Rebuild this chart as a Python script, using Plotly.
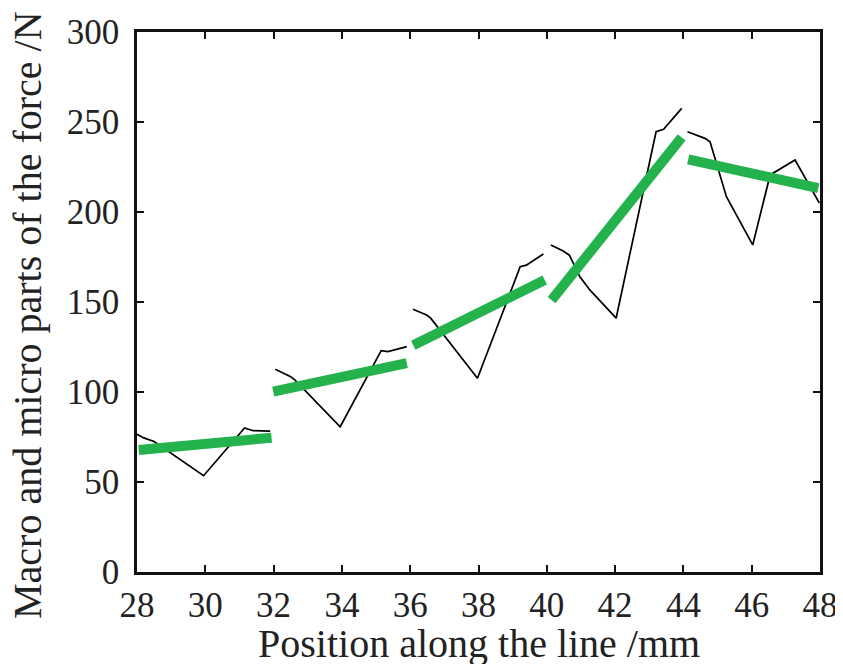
import plotly.graph_objects as go

# Micro (black) force trace, five segments of 4 mm each
micro_seg1_x = [28.0, 28.2, 28.5, 29.95, 31.15, 31.4, 31.9]
micro_seg1_y = [76.5, 74.5, 72.5, 53.5, 80.0, 78.5, 78.3]
micro_seg2_x = [32.05, 32.5, 32.62, 33.95, 35.15, 35.35, 35.9]
micro_seg2_y = [112.6, 108.5, 106.7, 80.7, 123.0, 122.4, 125.2]
micro_seg3_x = [36.08, 36.48, 36.6, 37.97, 39.22, 39.4, 39.9]
micro_seg3_y = [146.0, 142.8, 141.0, 107.6, 169.6, 170.5, 176.7]
micro_seg4_x = [40.12, 40.48, 40.66, 40.97, 41.26, 42.03, 43.2, 43.42, 43.95]
micro_seg4_y = [181.7, 178.3, 176.0, 164.0, 156.7, 141.0, 244.6, 246.0, 257.6]
micro_seg5_x = [44.12, 44.63, 44.78, 45.26, 46.03, 46.54, 47.27, 47.98]
micro_seg5_y = [244.6, 240.9, 239.0, 208.5, 181.7, 220.6, 228.9, 205.0]

# Macro (green) linear fits: start/end x and y for each segment
macro_x_start = [28.05, 31.99, 36.09, 40.14, 44.14]
macro_x_end = [31.94, 35.9, 39.94, 43.95, 47.95]
macro_y_start = [67.8, 100.2, 126.0, 151.0, 229.3]
macro_y_end = [74.6, 116.0, 162.2, 241.5, 213.2]

x_ticks = [28, 30, 32, 34, 36, 38, 40, 42, 44, 46, 48]
y_ticks = [0, 50, 100, 150, 200, 250, 300]

x_title = "Position along the line /mm"
y_title = "Macro and micro parts of the force /N"

micro_segments = [
    (micro_seg1_x, micro_seg1_y),
    (micro_seg2_x, micro_seg2_y),
    (micro_seg3_x, micro_seg3_y),
    (micro_seg4_x, micro_seg4_y),
    (micro_seg5_x, micro_seg5_y),
]

mx, my = [], []
for sx, sy in micro_segments:
    mx += sx + [None]
    my += sy + [None]

gx, gy = [], []
for xs, xe, ys, ye in zip(macro_x_start, macro_x_end, macro_y_start, macro_y_end):
    gx += [xs, xe, None]
    gy += [ys, ye, None]

fig = go.Figure()
fig.add_trace(go.Scatter(x=mx, y=my, mode="lines",
                         line=dict(color="black", width=1.7),
                         connectgaps=False, showlegend=False))
fig.add_trace(go.Scatter(x=gx, y=gy, mode="lines",
                         line=dict(color="rgb(35,178,75)", width=10),
                         connectgaps=False, showlegend=False))

family = "Liberation Serif, Times New Roman, serif"
tick_font = dict(family=family, size=35, color="#222")
title_font = dict(family=family, size=40, color="#222")

# page body has an 8px margin, so the figure is sized to fit the window
fig.update_layout(
    width=835, height=656,
    margin=dict(l=129, r=23, t=24, b=92, autoexpand=False),
    paper_bgcolor="white", plot_bgcolor="white",
    font=tick_font,
    showlegend=False,
)
fig.update_xaxes(
    range=[28, 48], tickvals=x_ticks, ticktext=[str(v) for v in x_ticks],
    showgrid=False, zeroline=False, automargin=False,
    showline=True, linecolor="#111", linewidth=2.5, mirror="ticks",
    ticks="inside", ticklen=7, tickwidth=1.5, tickcolor="#111",
    tickfont=tick_font, ticklabelstandoff=0,
)
fig.update_yaxes(
    range=[0, 300], tickvals=y_ticks, ticktext=[str(v) for v in y_ticks],
    showgrid=False, zeroline=False, automargin=False,
    showline=True, linecolor="#111", linewidth=2.5, mirror="ticks",
    ticks="inside", ticklen=7, tickwidth=1.5, tickcolor="#111",
    tickfont=tick_font, ticklabelstandoff=8,
)
# axis titles as annotations so they can be placed exactly as in the reference
fig.add_annotation(
    text=x_title, font=title_font,
    xref="paper", yref="paper", x=0.5, y=0,
    xanchor="center", yanchor="top", yshift=-47,
    showarrow=False,
)
fig.add_annotation(
    text=y_title, textangle=-90, font=title_font,
    xref="paper", yref="paper", x=0, y=0.476,
    xanchor="center", yanchor="middle", xshift=-109,
    showarrow=False,
)

fig.write_html("out.html")
